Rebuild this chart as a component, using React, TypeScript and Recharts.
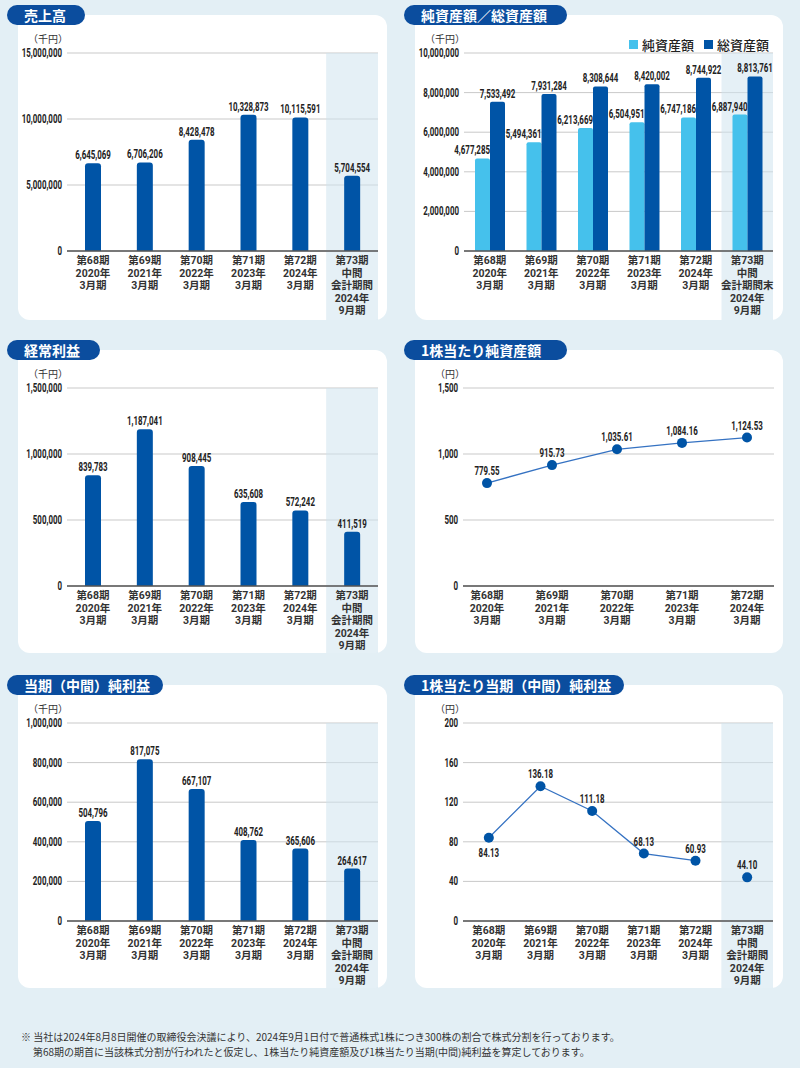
import React from 'react';
import {
  BarChart,
  Bar,
  LineChart,
  Line,
  XAxis,
  YAxis,
  CartesianGrid,
  ReferenceArea,
  LabelList
} from 'recharts';

// period labels (x axis)
const periods = [
  '第68期\n2020年\n3月期',
  '第69期\n2021年\n3月期',
  '第70期\n2022年\n3月期',
  '第71期\n2023年\n3月期',
  '第72期\n2024年\n3月期'
];
const interimPeriod = '第73期\n中間\n会計期間\n2024年\n9月期';
const interimPeriodEnd = '第73期\n中間\n会計期間末\n2024年\n9月期';

// values (千円 / 円)
const salesValues = [6645069, 6706206, 8428478, 10328873, 10115591, 5704554];
const netAssetsValues = [4677285, 5494361, 6213669, 6504951, 6747186, 6887940];
const totalAssetsValues = [7533492, 7931284, 8308644, 8420002, 8744922, 8813761];
const ordinaryIncomeValues = [839783, 1187041, 908445, 635608, 572242, 411519];
const bpsValues = [779.55, 915.73, 1035.61, 1084.16, 1124.53];
const netIncomeValues = [504796, 817075, 667107, 408762, 365606, 264617];
const epsValues = [84.13, 136.18, 111.18, 68.13, 60.93, 44.1];

const salesTicks = [0, 5000000, 10000000, 15000000];
const assetsTicks = [0, 2000000, 4000000, 6000000, 8000000, 10000000];
const ordinaryTicks = [0, 500000, 1000000, 1500000];
const bpsTicks = [0, 500, 1000, 1500];
const netIncomeTicks = [0, 200000, 400000, 600000, 800000, 1000000];
const epsTicks = [0, 40, 80, 120, 160, 200];

const BG = '#e3eff5';
const NAVY = '#0b4d9e';
const BAR_BLUE = '#0054a6';
const LIGHT_BLUE = '#45c1ec';
const LINE_BLUE = '#3572c2';
const GRID = '#c9c9c9';
const AXIS = '#555555';
const SHADE = '#cfe4ee';
const TEXT = '#333333';
const JP = '"Noto Sans CJK JP", sans-serif';
const TICK_FONT = 'Roboto, "Noto Sans CJK JP", sans-serif';

const PLOT_TOP = 38;
const PLOT_H = 198;

const fmtInt = (v: number) => Number(v).toLocaleString('en-US');
const fmtDec = (v: number) =>
  Number(v).toLocaleString('en-US', { minimumFractionDigits: 2, maximumFractionDigits: 2 });

const withInterim = (values: number[], last: string) =>
  values.map((v, i) => ({ name: i < 5 ? periods[i] : last, value: v }));

const salesRows = withInterim(salesValues, interimPeriod);
const ordinaryRows = withInterim(ordinaryIncomeValues, interimPeriod);
const netIncomeRows = withInterim(netIncomeValues, interimPeriod);
const assetRows = netAssetsValues.map((v, i) => ({
  name: i < 5 ? periods[i] : interimPeriodEnd,
  net: v,
  total: totalAssetsValues[i]
}));
const bpsRows = bpsValues.map((v, i) => ({ name: periods[i], value: v }));
const epsRows = epsValues.map((v, i) => ({
  name: i < 5 ? periods[i] : interimPeriod,
  value: i < 5 ? v : null,
  interim: i === 5 ? v : null
}));

// condensed number text
const CondText = ({ x, y, anchor, children }: any) => (
  <text
    transform={`translate(${x},${y}) scale(0.66,1)`}
    textAnchor={anchor}
    fontFamily="Roboto"
    fontWeight={700}
    fontSize={12}
    fill="#222"
  >
    {children}
  </text>
);

const YTick = ({ x, y, payload, fmt }: any) => (
  <CondText x={x} y={y + 4} anchor="end">
    {fmt(payload.value)}
  </CondText>
);

const XTick = ({ x, y, payload }: any) => {
  const lines = String(payload.value).split('\n');
  return (
    <g>
      {lines.map((l, i) => (
        <text
          key={i}
          x={x}
          y={y + 13 + i * 12.5}
          textAnchor="middle"
          fontFamily={TICK_FONT}
          fontWeight={700}
          fontSize={10.5}
          fill={TEXT}
        >
          {l}
        </text>
      ))}
    </g>
  );
};

const box = (p: any) => {
  const vb = p.viewBox || {};
  return {
    x: vb.x ?? p.x,
    y: vb.y ?? p.y,
    width: vb.width ?? p.width ?? 0
  };
};

const BarValueLabel = ({ align, ...p }: any) => {
  if (p.value == null) return null;
  const b = box(p);
  const x = align === 'end' ? b.x + b.width : b.x + b.width / 2;
  return (
    <CondText x={x} y={b.y - 4} anchor={align === 'end' ? 'end' : 'middle'}>
      {fmtInt(p.value)}
    </CondText>
  );
};

const PointLabel = ({ fmt, belowFirst, ...p }: any) => {
  if (p.value == null) return null;
  const b = box(p);
  const below = belowFirst && p.index === 0;
  return (
    <CondText x={b.x} y={below ? b.y + 19 : b.y - 8} anchor="middle">
      {fmt(p.value)}
    </CondText>
  );
};

interface CardProps {
  left: number;
  top: number;
  width: number;
  height: number;
  title: string;
  pillWidth: number;
  unit: string;
  unitLeft: number;
  children: React.ReactNode;
}

const Card: React.FC<CardProps> = ({ left, top, width, height, title, pillWidth, unit, unitLeft, children }) => (
  <>
    <div style={{ position: 'absolute', left, top, width, height, background: '#fff', borderRadius: 12 }} />
    <div style={{ position: 'absolute', left, top }}>{children}</div>
    <div
      style={{
        position: 'absolute',
        left: left - 11,
        top: top - 10,
        width: pillWidth,
        height: 20,
        borderRadius: 10,
        background: NAVY,
        color: '#fff',
        fontFamily: JP,
        fontWeight: 700,
        fontSize: 14,
        lineHeight: '20px',
        paddingLeft: 17,
        boxSizing: 'border-box',
        whiteSpace: 'nowrap'
      }}
    >
      {title}
    </div>
    <div
      style={{
        position: 'absolute',
        left: left + unitLeft,
        top: top + 16,
        fontFamily: JP,
        fontSize: 10,
        color: TEXT,
        whiteSpace: 'nowrap'
      }}
    >
      {unit}
    </div>
  </>
);

const SingleBarChart = ({ rows, max, ticks, width, height }: any) => {
  const xh = height - PLOT_TOP - PLOT_H;
  const ext = (xh / PLOT_H) * max;
  return (
    <BarChart width={width} height={height} data={rows} margin={{ top: PLOT_TOP, right: 9, left: 0, bottom: 0 }}>
      <CartesianGrid vertical={false} stroke={GRID} />
      <ReferenceArea
        x1={interimPeriod}
        x2={interimPeriod}
        y1={-ext}
        y2={max}
        ifOverflow="visible"
        fill={SHADE}
        fillOpacity={0.55}
        stroke="none"
      />
      <XAxis
        dataKey="name"
        interval={0}
        height={xh}
        tickLine={false}
        tickSize={0}
        tickMargin={0}
        tick={<XTick />}
        axisLine={{ stroke: AXIS, strokeWidth: 1.5 }}
      />
      <YAxis
        width={49}
        domain={[0, max]}
        ticks={ticks}
        tickLine={false}
        axisLine={false}
        tickSize={0}
        tickMargin={5}
        tick={<YTick fmt={fmtInt} />}
      />
      <Bar dataKey="value" fill={BAR_BLUE} barSize={16} radius={[3, 3, 0, 0]} isAnimationActive={false}>
        <LabelList dataKey="value" content={<BarValueLabel />} />
      </Bar>
    </BarChart>
  );
};

const AssetsChart = () => {
  const width = 368;
  const height = 305;
  const max = 10000000;
  const xh = height - PLOT_TOP - PLOT_H;
  const ext = (xh / PLOT_H) * max;
  return (
    <BarChart
      width={width}
      height={height}
      data={assetRows}
      barGap={0}
      margin={{ top: PLOT_TOP, right: 10, left: 0, bottom: 0 }}
    >
      <CartesianGrid vertical={false} stroke={GRID} />
      <ReferenceArea
        x1={interimPeriodEnd}
        x2={interimPeriodEnd}
        y1={-ext}
        y2={max}
        ifOverflow="visible"
        fill={SHADE}
        fillOpacity={0.55}
        stroke="none"
      />
      <XAxis
        dataKey="name"
        interval={0}
        height={xh}
        tickLine={false}
        tickSize={0}
        tickMargin={0}
        tick={<XTick />}
        axisLine={{ stroke: AXIS, strokeWidth: 1.5 }}
      />
      <YAxis
        width={49}
        domain={[0, max]}
        ticks={assetsTicks}
        tickLine={false}
        axisLine={false}
        tickSize={0}
        tickMargin={5}
        tick={<YTick fmt={fmtInt} />}
      />
      <Bar dataKey="net" fill={LIGHT_BLUE} barSize={15} radius={[2, 2, 0, 0]} isAnimationActive={false}>
        <LabelList dataKey="net" content={<BarValueLabel align="end" />} />
      </Bar>
      <Bar dataKey="total" fill={BAR_BLUE} barSize={15} radius={[2, 2, 0, 0]} isAnimationActive={false}>
        <LabelList dataKey="total" content={<BarValueLabel />} />
      </Bar>
    </BarChart>
  );
};

const BpsChart = () => {
  const height = 303;
  const xh = height - PLOT_TOP - PLOT_H;
  return (
    <LineChart width={368} height={height} data={bpsRows} margin={{ top: PLOT_TOP, right: 9, left: 0, bottom: 0 }}>
      <CartesianGrid vertical={false} stroke={GRID} />
      <XAxis
        dataKey="name"
        scale="point"
        padding={{ left: 24, right: 27 }}
        interval={0}
        height={xh}
        tickLine={false}
        tickSize={0}
        tickMargin={0}
        tick={<XTick />}
        axisLine={{ stroke: AXIS, strokeWidth: 1.5 }}
      />
      <YAxis
        width={48}
        domain={[0, 1500]}
        ticks={bpsTicks}
        tickLine={false}
        axisLine={false}
        tickSize={0}
        tickMargin={5}
        tick={<YTick fmt={fmtInt} />}
      />
      <Line
        dataKey="value"
        stroke={LINE_BLUE}
        strokeWidth={1.3}
        dot={{ r: 5, fill: BAR_BLUE, stroke: 'none' }}
        isAnimationActive={false}
      >
        <LabelList dataKey="value" content={<PointLabel fmt={fmtDec} />} />
      </Line>
    </LineChart>
  );
};

const EpsChart = () => {
  const height = 303;
  const max = 200;
  const xh = height - PLOT_TOP - PLOT_H;
  const ext = (xh / PLOT_H) * max;
  return (
    <LineChart width={368} height={height} data={epsRows} margin={{ top: PLOT_TOP, right: 10, left: 0, bottom: 0 }}>
      <CartesianGrid vertical={false} stroke={GRID} />
      <ReferenceArea
        x1={interimPeriod}
        x2={interimPeriod}
        y1={-ext}
        y2={max}
        ifOverflow="visible"
        fill={SHADE}
        fillOpacity={0.55}
        stroke="none"
      />
      <XAxis
        dataKey="name"
        scale="band"
        interval={0}
        height={xh}
        tickLine={false}
        tickSize={0}
        tickMargin={0}
        tick={<XTick />}
        axisLine={{ stroke: AXIS, strokeWidth: 1.5 }}
      />
      <YAxis
        width={48}
        domain={[0, max]}
        ticks={epsTicks}
        tickLine={false}
        axisLine={false}
        tickSize={0}
        tickMargin={5}
        tick={<YTick fmt={fmtInt} />}
      />
      <Line
        dataKey="value"
        stroke={LINE_BLUE}
        strokeWidth={1.3}
        dot={{ r: 5, fill: BAR_BLUE, stroke: 'none' }}
        isAnimationActive={false}
      >
        <LabelList dataKey="value" content={<PointLabel fmt={fmtDec} belowFirst />} />
      </Line>
      <Line
        dataKey="interim"
        stroke="none"
        dot={{ r: 5, fill: BAR_BLUE, stroke: 'none' }}
        isAnimationActive={false}
      >
        <LabelList dataKey="interim" content={<PointLabel fmt={fmtDec} />} />
      </Line>
    </LineChart>
  );
};

const LegendBox = () => (
  <div
    style={{
      position: 'absolute',
      left: 629,
      top: 35,
      display: 'flex',
      alignItems: 'center',
      fontFamily: JP,
      fontSize: 13,
      fontWeight: 500,
      color: '#222',
      whiteSpace: 'nowrap'
    }}
  >
    <span style={{ width: 9, height: 9, background: LIGHT_BLUE, marginRight: 4 }} />
    <span style={{ marginRight: 10 }}>純資産額</span>
    <span style={{ width: 9, height: 9, background: BAR_BLUE, marginRight: 4 }} />
    <span>総資産額</span>
  </div>
);

const footnote1 =
  '※ 当社は2024年8月8日開催の取締役会決議により、2024年9月1日付で普通株式1株につき300株の割合で株式分割を行っております。';
const footnote2 =
  '第68期の期首に当該株式分割が行われたと仮定し、1株当たり純資産額及び1株当たり当期(中間)純利益を算定しております。';

const App: React.FC = () => (
  <div style={{ position: 'absolute', left: 0, top: 0, width: 800, height: 1068, background: BG, overflow: 'hidden' }}>
    <Card left={18} top={15} width={369} height={305} title="売上高" pillWidth={78} unit="（千円）" unitLeft={10}>
      <SingleBarChart rows={salesRows} max={15000000} ticks={salesTicks} width={369} height={305} />
    </Card>
    <Card left={415} top={15} width={368} height={305} title="純資産額／総資産額" pillWidth={163} unit="（千円）" unitLeft={10}>
      <AssetsChart />
    </Card>
    <LegendBox />
    <Card left={18} top={350} width={369} height={303} title="経常利益" pillWidth={93} unit="（千円）" unitLeft={10}>
      <SingleBarChart rows={ordinaryRows} max={1500000} ticks={ordinaryTicks} width={369} height={303} />
    </Card>
    <Card left={415} top={350} width={368} height={303} title="1株当たり純資産額" pillWidth={163} unit="（円）" unitLeft={20}>
      <BpsChart />
    </Card>
    <Card left={18} top={685} width={369} height={303} title="当期（中間）純利益" pillWidth={156} unit="（千円）" unitLeft={10}>
      <SingleBarChart rows={netIncomeRows} max={1000000} ticks={netIncomeTicks} width={369} height={303} />
    </Card>
    <Card left={415} top={685} width={368} height={303} title="1株当たり当期（中間）純利益" pillWidth={220} unit="（円）" unitLeft={20}>
      <EpsChart />
    </Card>
    <div style={{ position: 'absolute', left: 21, top: 1029, fontFamily: JP, fontSize: 10, lineHeight: '15px', color: TEXT, whiteSpace: 'nowrap' }}>
      {footnote1}
    </div>
    <div style={{ position: 'absolute', left: 33, top: 1044, fontFamily: JP, fontSize: 10, lineHeight: '15px', color: TEXT, whiteSpace: 'nowrap' }}>
      {footnote2}
    </div>
  </div>
);

export default App;
